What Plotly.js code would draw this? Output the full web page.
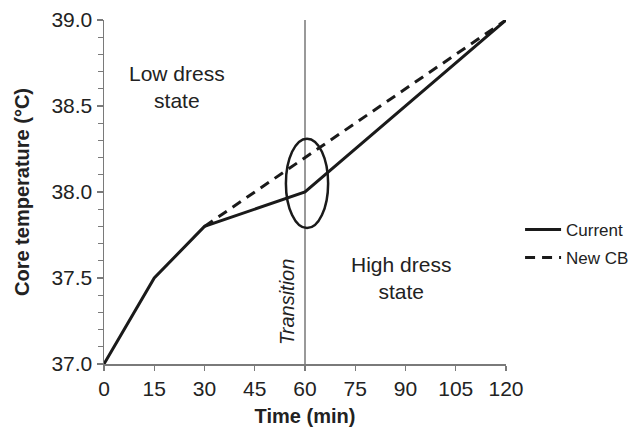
<!DOCTYPE html>
<html>
<head>
<meta charset="utf-8">
<script src="https://cdn.plot.ly/plotly-3.0.1.min.js"></script>
<style>html,body{margin:0;padding:0;background:#fff;}#chart{width:634px;height:434px;}</style>
</head>
<body>
<div id="chart"></div>
<script>
// Data
const timeCurrent = [0, 15, 30, 60, 120];
const tempCurrent = [37.0, 37.5, 37.8, 38.0, 39.0];
const timeNewCB = [30, 120];
const tempNewCB = [37.8, 39.0];
const xTicks = [0, 15, 30, 45, 60, 75, 90, 105, 120];
const yTicks = [37.0, 37.5, 38.0, 38.5, 39.0];
const yTickLabels = ["37.0", "37.5", "38.0", "38.5", "39.0"];
const transitionTime = 60;

const ink = '#1a1a1a';
const axisGray = '#7a7a7a';
const font = 'Liberation Sans, Arial, Helvetica, sans-serif';

const traces = [
  {x: timeCurrent, y: tempCurrent, type: 'scatter', mode: 'lines', name: 'Current',
   legendgroup: 'current', line: {color: ink, width: 3}},
  {x: timeNewCB, y: tempNewCB, type: 'scatter', mode: 'lines', name: 'New CB',
   legendgroup: 'newcb', line: {color: ink, width: 3, dash: '10px,7px'}}
];

const layout = {
  width: 634, height: 434,
  margin: {l: 104, r: 128, t: 20, b: 70, autoexpand: false},
  paper_bgcolor: '#fff', plot_bgcolor: '#fff',
  font: {family: font, color: '#222', size: 21},
  showlegend: true,
  legend: {x: 1.035, xanchor: 'left', y: 0.442, yanchor: 'top',
           font: {size: 17, color: '#222'}, bgcolor: 'rgba(0,0,0,0)', itemwidth: 36,
           tracegroupgap: 3},
  xaxis: {range: [0, 120], tickvals: xTicks, ticktext: xTicks.map(String),
          showgrid: false, zeroline: false, showline: true, linecolor: axisGray, linewidth: 1.5,
          ticks: 'outside', ticklen: 5, tickcolor: axisGray, tickwidth: 1.2,
          tickfont: {size: 21, color: '#222'},
          title: {text: '<b>Time (min)</b>', font: {size: 20, color: '#222'}, standoff: 10}},
  yaxis: {range: [37, 39], tickvals: yTicks, ticktext: yTickLabels,
          showgrid: false, zeroline: false, showline: true, linecolor: axisGray, linewidth: 1.5,
          ticks: 'outside', ticklen: 6, tickcolor: axisGray, tickwidth: 1.2,
          minor: {dtick: 0.1, ticks: 'outside', ticklen: 5, tickcolor: axisGray, tickwidth: 1.2, showgrid: false},
          tickfont: {size: 21, color: '#222'},
          title: {text: '<b>Core temperature (°C)</b>', font: {size: 20, color: '#222'}, standoff: 16}},
  shapes: [
    {type: 'line', xref: 'x', yref: 'y', x0: transitionTime, x1: transitionTime, y0: 37, y1: 39,
     line: {color: '#555', width: 1.2}, layer: 'below'},
    {type: 'circle', xref: 'x', yref: 'y', x0: 54.3, x1: 66.9, y0: 37.79, y1: 38.31,
     line: {color: ink, width: 2.5}}
  ],
  annotations: [
    {x: 21.8, y: 38.61, xref: 'x', yref: 'y', text: 'Low dress<br>state', showarrow: false,
     font: {size: 21, color: '#222'}, align: 'center'},
    {x: 88.7, y: 37.50, xref: 'x', yref: 'y', text: 'High dress<br>state', showarrow: false,
     font: {size: 21, color: '#222'}, align: 'center'},
    {x: 54.6, y: 37.36, xref: 'x', yref: 'y', text: '<i>Transition</i>', showarrow: false,
     textangle: -90, font: {size: 20, color: '#222'}}
  ]
};

Plotly.newPlot('chart', traces, layout, {displayModeBar: false, staticPlot: true});
</script>
</body>
</html>
